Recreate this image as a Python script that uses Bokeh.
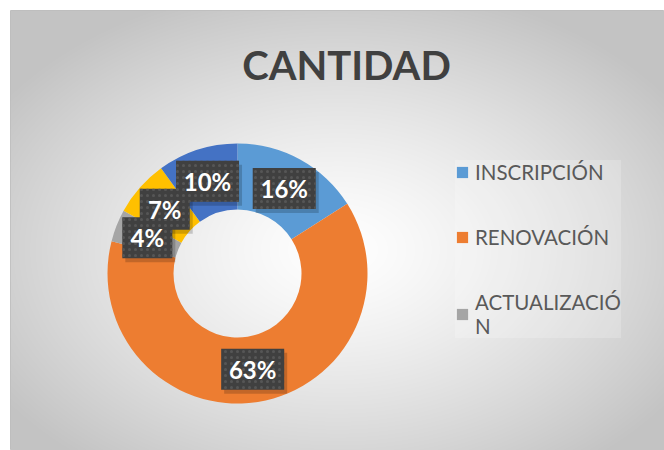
import numpy as np
from bokeh.plotting import figure
from bokeh.models import Range1d, Legend, LegendItem, Label, ColumnDataSource
from bokeh.core.properties import value
from bokeh.embed import file_html
from bokeh.resources import INLINE

# ---- data ----
title_text = "CANTIDAD"
categories = ["INSCRIPCIÓN", "RENOVACIÓN", "ACTUALIZACIÓN", "MODIFICACIÓN", "CANCELACIÓN"]
values = [16, 63, 4, 7, 10]
colors = ["#5B9BD5", "#ED7D31", "#A5A5A5", "#FFC000", "#4472C4"]
legend_shown = 3  # legend is cut after the third entry

# ---- layout ----
W, H = 654, 440
FONT = "Lato"
p = figure(width=664, height=450, x_range=Range1d(0, W), y_range=Range1d(0, H),
           output_backend="svg", toolbar_location=None,
           x_axis_type=None, y_axis_type=None,
           min_border_left=10, min_border_top=10, min_border_right=0, min_border_bottom=0,
           border_fill_color="white", outline_line_color="#bdbdbd")
p.grid.visible = False

# radial gradient background
yy, xx = np.mgrid[0:H, 0:W]
gx, gy = 327.0, 200.0
d = np.sqrt(((xx - gx) / (W * 0.62)) ** 2 + ((yy - gy) / (H * 0.62)) ** 2)
t = np.clip(d, 0, 1)
g = (255 - 60 * t ** 1.3).astype(np.uint32)
img = (255 << 24) | (g << 16) | (g << 8) | g
p.image_rgba(image=[img.astype(np.uint32)], x=0, y=0, dw=W, dh=H)

# donut
cx, cy = 227, 177
r_in, r_out = 64, 130
vals = np.array(values, dtype=float)
total = vals.sum()
cum = np.cumsum(vals)
start = np.pi / 2 - 2 * np.pi * cum / total
end = np.pi / 2 - 2 * np.pi * (cum - vals) / total
src = ColumnDataSource(dict(cat=categories, val=values, color=colors,
                            start=start, end=end))
wedges = p.annular_wedge(x=cx, y=cy, inner_radius=r_in, outer_radius=r_out,
                         start_angle="start", end_angle="end", direction="anticlock",
                         fill_color="color", line_color=None, source=src)

# data labels
mid = np.pi / 2 - 2 * np.pi * (cum - vals / 2) / total
r_mid = (r_in + r_out) / 2
lx = cx + r_mid * np.cos(mid)
ly = cy + r_mid * np.sin(mid)
pct = [f"{round(v / total * 100):d}%" for v in vals]
bw = [24 + 13 * len(s) for s in pct]
lsrc = ColumnDataSource(dict(x=lx, y=ly, xs=lx + 3, ys=ly - 4, w=bw, t=pct))
p.rect(x="xs", y="ys", width="w", height=41, width_units="screen", height_units="screen",
       fill_color="black", fill_alpha=0.18, line_color=None, source=lsrc)
p.rect(x="x", y="y", width="w", height=41, width_units="screen", height_units="screen",
       fill_color="#404040", line_color=None, hatch_pattern="dot", hatch_color="#565656",
       hatch_scale=6, hatch_weight=1, source=lsrc)
p.text(x="x", y="y", text="t", text_align="center", text_baseline="middle",
       text_font=value(FONT), text_font_style="bold", text_font_size="24px",
       text_color="white", source=lsrc)

# title
p.add_layout(Label(x=336, y=386, text=title_text, text_align="center", text_baseline="middle",
                   text_font=FONT, text_font_style="bold", text_font_size="40px",
                   text_color="#404040"))

# legend
def wrap(s, n=12):
    return "\n".join(s[i:i + n] for i in range(0, len(s), n))

items = [LegendItem(label=wrap(categories[i]), renderers=[wedges], index=i)
         for i in range(legend_shown)]
legend = Legend(items=items, location=(445, 112), orientation="vertical",
                label_text_font=FONT, label_text_font_size="20.5px", label_text_color="#595959",
                label_text_line_height=1.3,
                glyph_width=14, glyph_height=14, label_standoff=6, spacing=41,
                padding=9, margin=0,
                background_fill_color="white", background_fill_alpha=0.2,
                border_line_color=None)
p.add_layout(legend)

open("out.html", "w").write(file_html(p, INLINE))
